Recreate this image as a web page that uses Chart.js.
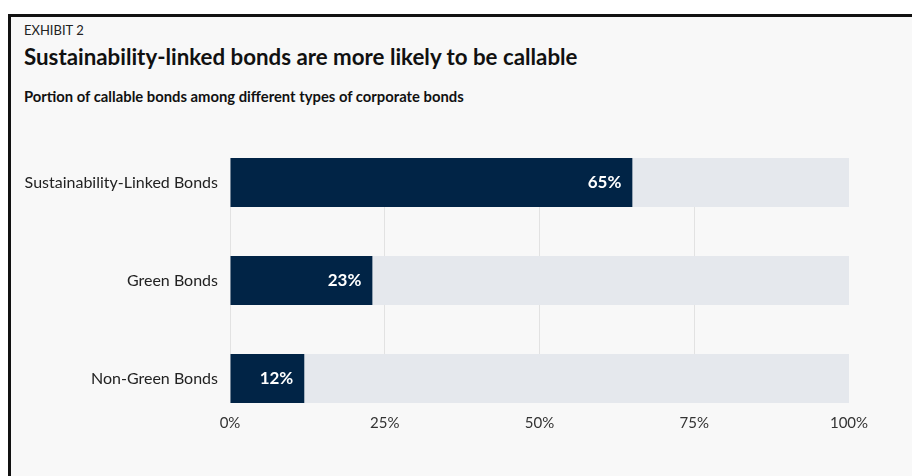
<!DOCTYPE html>
<html>
<head>
<meta charset="utf-8">
<script src="https://cdn.jsdelivr.net/npm/chart.js@4"></script>
<style>
  html, body { margin: 0; padding: 0; background: #ffffff; }
  body { width: 912px; height: 476px; position: relative; overflow: hidden; font-family: Lato, "Noto Sans", sans-serif; }
  #frame { position: absolute; left: 8px; top: 14px; right: -10px; bottom: -10px; background: #f8f8f8; border-left: 3px solid #111; border-top: 3px solid #111; }
  #exhibit { position: absolute; left: 24px; top: 22px; font-size: 13px; color: #222; }
  #title { position: absolute; left: 24px; top: 44px; font-size: 22.3px; font-weight: 700; color: #111; line-height: 1.2; }
  #subtitle { position: absolute; left: 24px; top: 88px; font-size: 14.8px; font-weight: 700; color: #111; line-height: 1.2; }
  canvas { position: absolute; left: 0; top: 0; }
</style>
</head>
<body>
<div id="frame"></div>
<div id="exhibit">EXHIBIT 2</div>
<div id="title">Sustainability-linked bonds are more likely to be callable</div>
<div id="subtitle">Portion of callable bonds among different types of corporate bonds</div>
<canvas id="c" width="912" height="476"></canvas>
<script>
const categories = ["Sustainability-Linked Bonds", "Green Bonds", "Non-Green Bonds"];
const callableShare = [65, 23, 12];
const fullScale = [100, 100, 100];
const xTicks = [0, 25, 50, 75, 100];

const FONT = "Lato, 'Noto Sans', sans-serif";

const valueLabels = {
  id: 'valueLabels',
  afterDatasetsDraw(chart) {
    const meta = chart.getDatasetMeta(0);
    const ctx = chart.ctx;
    ctx.save();
    ctx.fillStyle = '#ffffff';
    ctx.font = "700 17px " + FONT;
    ctx.textAlign = 'right';
    ctx.textBaseline = 'middle';
    meta.data.forEach((bar, i) => {
      ctx.fillText(callableShare[i] + '%', bar.x - 11, bar.y);
    });
    ctx.restore();
  }
};

new Chart(document.getElementById('c'), {
  type: 'bar',
  data: {
    datasets: [
      {
        data: categories.map((c, i) => ({ x: callableShare[i], y: i })),
        backgroundColor: '#012446',
        grouped: false,
        order: 1,
        categoryPercentage: 1,
        barPercentage: 0.5
      },
      {
        data: categories.map((c, i) => ({ x: fullScale[i], y: i })),
        backgroundColor: '#e5e8ed',
        grouped: false,
        order: 2,
        categoryPercentage: 1,
        barPercentage: 0.5
      }
    ]
  },
  options: {
    indexAxis: 'y',
    responsive: false,
    animation: false,
    devicePixelRatio: 1,
    layout: { padding: { top: 158, right: 63, left: 0, bottom: 0 } },
    plugins: { legend: { display: false }, tooltip: { enabled: false } },
    scales: {
      x: {
        type: 'linear',
        min: 0,
        max: 100,
        afterBuildTicks: s => { s.ticks = xTicks.map(v => ({ value: v })); },
        afterFit: s => { s.height = 73; },
        border: { display: false },
        grid: {
          drawTicks: false,
          color: ctx => (ctx.tick && ctx.tick.value === 100) ? 'rgba(0,0,0,0)' : '#e2e2e2',
          lineWidth: 1
        },
        ticks: {
          padding: 11,
          color: '#333',
          font: { family: FONT, size: 15 },
          callback: v => v + '%'
        }
      },
      y: {
        type: 'linear',
        reverse: true,
        offset: false,
        min: -0.25,
        max: 2.25,
        afterBuildTicks: s => { s.ticks = categories.map((c, i) => ({ value: i })); },
        afterFit: s => { s.width = 230; },
        border: { display: false },
        grid: { display: false, drawTicks: false },
        ticks: {
          padding: 12,
          color: '#222',
          font: { family: FONT, size: 16 },
          callback: v => categories[v]
        }
      }
    }
  },
  plugins: [valueLabels]
});
</script>
</body>
</html>
